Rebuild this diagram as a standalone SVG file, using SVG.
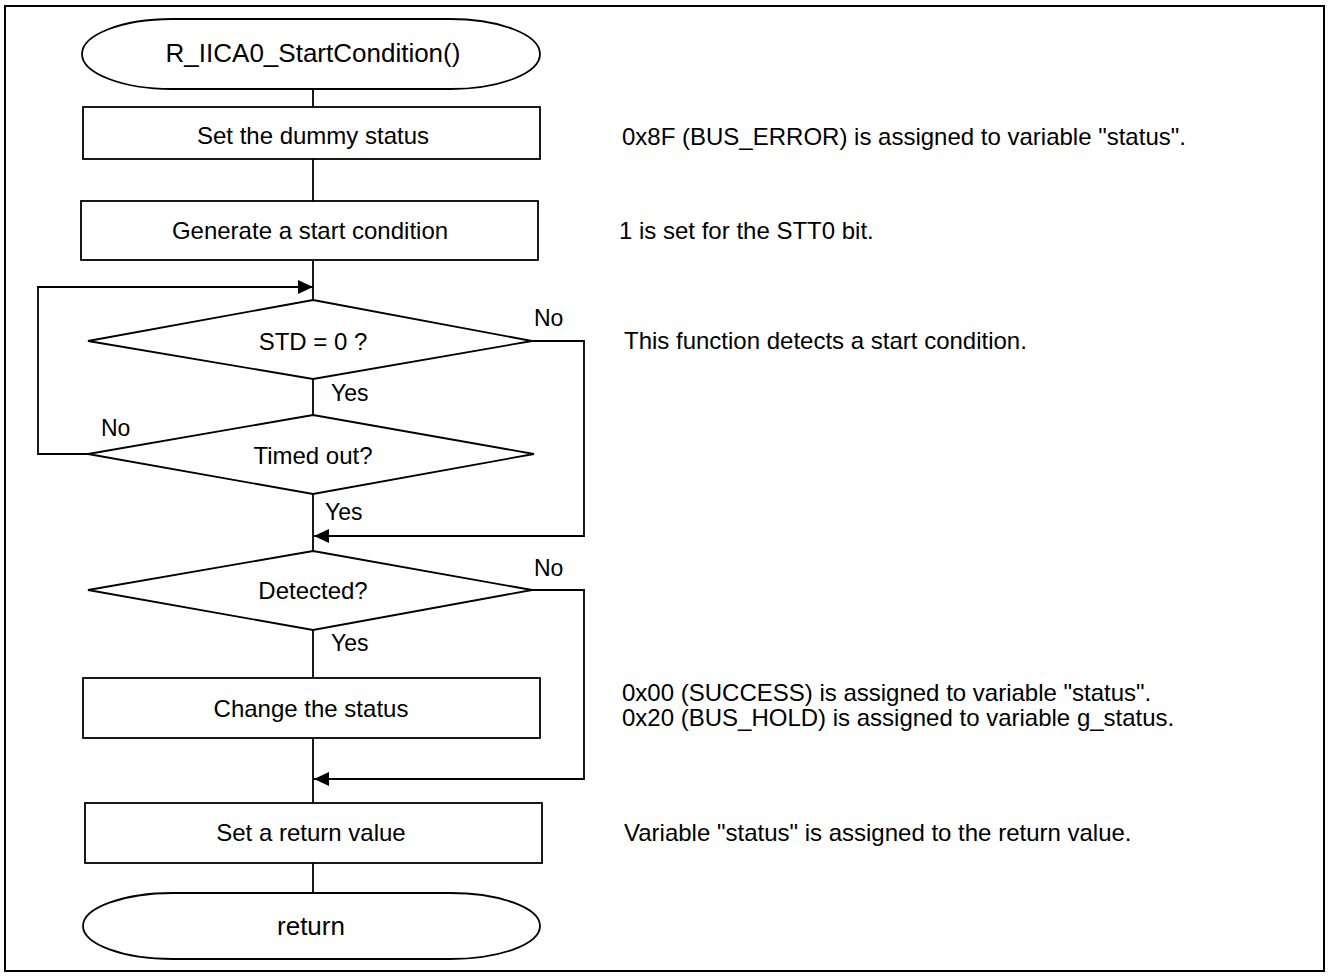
<svg xmlns="http://www.w3.org/2000/svg" width="1328" height="978" viewBox="0 0 1328 978">
<style>
  .shape { fill: #fff; stroke: #000; stroke-width: 1.8; }
  .line { fill: none; stroke: #000; stroke-width: 1.8; }
  text { font-family: "Liberation Sans", Arial, sans-serif; fill: #000; dominant-baseline: central; }
  .c { text-anchor: middle; font-size: 24px; }
  .t { text-anchor: middle; font-size: 26px; }
  .n { font-size: 24px; }
  .lbl { font-size: 23px; }
</style>
<defs>
  <marker id="arr" viewBox="0 0 15 14" refX="15" refY="7" markerWidth="15" markerHeight="14" markerUnits="userSpaceOnUse" orient="auto">
    <path d="M0,0 L15,7 L0,14 Z" fill="#000"/>
  </marker>
</defs>
<rect x="5" y="6" width="1319" height="965" fill="#fff" stroke="#000" stroke-width="2"/>

<g id="connectors">
  <line class="line" x1="313" y1="89" x2="313" y2="107"/>
  <line class="line" x1="313" y1="159" x2="313" y2="201"/>
  <line class="line" x1="313" y1="260" x2="313" y2="300"/>
  <line class="line" x1="313" y1="379" x2="313" y2="415"/>
  <line class="line" x1="313" y1="494" x2="313" y2="551"/>
  <line class="line" x1="313" y1="630" x2="313" y2="678"/>
  <line class="line" x1="313" y1="738" x2="313" y2="803"/>
  <line class="line" x1="313" y1="863" x2="313" y2="893"/>
  <polyline class="line" points="88,454 38,454 38,287 313,287" marker-end="url(#arr)"/>
  <polyline class="line" points="532,341 584,341 584,536 314,536" marker-end="url(#arr)"/>
  <polyline class="line" points="532,590 584,590 584,779 314,779" marker-end="url(#arr)"/>
  <text class="lbl" x="534" y="318">No</text>
  <text class="lbl" x="331" y="393">Yes</text>
  <text class="lbl" x="101" y="428">No</text>
  <text class="lbl" x="325" y="512">Yes</text>
  <text class="lbl" x="534" y="568">No</text>
  <text class="lbl" x="331" y="643">Yes</text>
</g>

<g id="start">
  <rect class="shape" x="82" y="19" width="458" height="70" rx="90" ry="35"/>
  <text class="t" x="313" y="53">R_IICA0_StartCondition()</text>
</g>
<g id="set-dummy">
  <rect class="shape" x="83" y="107" width="457" height="52"/>
  <text class="c" x="313" y="135">Set the dummy status</text>
</g>
<g id="gen-start">
  <rect class="shape" x="81" y="201" width="457" height="59"/>
  <text class="c" x="310" y="230">Generate a start condition</text>
</g>
<g id="std">
  <polygon class="shape" points="313,300 532,341 313,379 88,341"/>
  <text class="c" x="313" y="341">STD = 0 ?</text>
</g>
<g id="timed-out">
  <polygon class="shape" points="313,415 534,454 313,494 88,454"/>
  <text class="c" x="313" y="455">Timed out?</text>
</g>
<g id="detected">
  <polygon class="shape" points="313,551 532,590 313,630 88,590"/>
  <text class="c" x="313" y="590">Detected?</text>
</g>
<g id="change-status">
  <rect class="shape" x="83" y="678" width="457" height="60"/>
  <text class="c" x="311" y="708">Change the status</text>
</g>
<g id="set-return">
  <rect class="shape" x="85" y="803" width="457" height="60"/>
  <text class="c" x="311" y="832">Set a return value</text>
</g>
<g id="return">
  <rect class="shape" x="83" y="893" width="457" height="66" rx="90" ry="33"/>
  <text class="t" x="311" y="926">return</text>
</g>

<g id="notes">
  <text class="n" x="622" y="136">0x8F (BUS_ERROR) is assigned to variable "status".</text>
  <text class="n" x="619" y="230">1 is set for the STT0 bit.</text>
  <text class="n" x="624" y="340">This function detects a start condition.</text>
  <text class="n" x="622" y="692">0x00 (SUCCESS) is assigned to variable "status".</text>
  <text class="n" x="622" y="717">0x20 (BUS_HOLD) is assigned to variable g_status.</text>
  <text class="n" x="624" y="832">Variable "status" is assigned to the return value.</text>
</g>
</svg>
